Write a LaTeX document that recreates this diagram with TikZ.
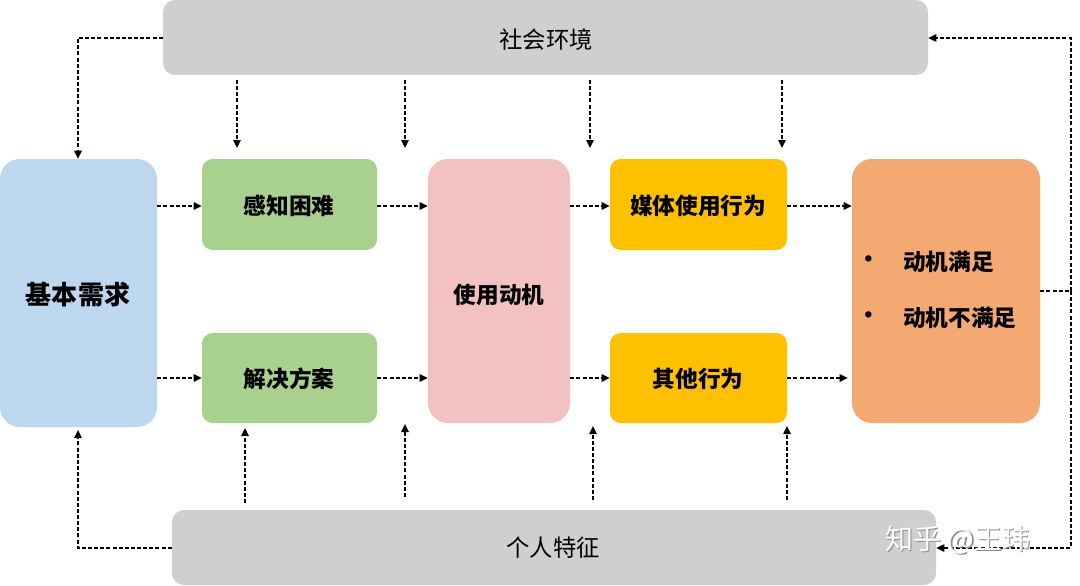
\documentclass[tikz,border=0pt]{standalone}
\usepackage{fontspec}
\setmainfont{Noto Sans CJK SC}
\usetikzlibrary{arrows.meta,fit}
\definecolor{cgray}{HTML}{D0CECE}
\definecolor{cblue}{HTML}{BDD7EE}
\definecolor{cgreen}{HTML}{A9D18E}
\definecolor{cpink}{HTML}{F2C2C2}
\definecolor{cyellow}{HTML}{FFC000}
\definecolor{corange}{HTML}{F4A872}
\begin{document}
\begin{tikzpicture}[x=0.75pt,y=-0.75pt,
  box/.style={rounded corners=8pt, inner sep=0pt, draw=none},
  bar/.style={rounded corners=9pt, inner sep=0pt, draw=none, fill=cgray},
  big/.style={rounded corners=15pt, inner sep=0pt, draw=none},
  arr/.style={line width=1.1pt, dash pattern=on 3pt off 1.6pt, -{Triangle[length=6pt,width=5.5pt]}},
  lbl/.style={inner sep=0pt, font=\bfseries\fontsize{17}{20}\selectfont},
  barlbl/.style={inner sep=0pt, font=\fontsize{17.5}{20}\selectfont}
]
\useasboundingbox (0,0) rectangle (1080,585);
\fill[white] (0,0) rectangle (1080,585);

% bars
\node[bar, fit={(163,0) (928,75)}] (env) {};
\node[barlbl] (envt) at (546,40) {社会环境};
\node[bar, fit={(172,510) (936,585)}] (pers) {};
\node[barlbl] (perst) at (553,548) {个人特征};

% boxes
\node[big, fill=cblue, fit={(0,159) (157,427)}] (need) {};
\node[lbl, font=\bfseries\fontsize{19.5}{22}\selectfont] (needt) at (78,295) {基本需求};
\node[box, fill=cgreen, fit={(202,159) (377,250)}] (perc) {};
\node[lbl] (perct) at (289,206) {感知困难};
\node[box, fill=cgreen, fit={(202,333) (377,423)}] (sol) {};
\node[lbl] (solt) at (289,379) {解决方案};
\node[big, fill=cpink, fit={(428,159) (570,423)}] (mot) {};
\node[lbl] (mott) at (499,295) {使用动机};
\node[box, fill=cyellow, fit={(610,159) (787,250)}] (media) {};
\node[lbl] (mediat) at (698,206) {媒体使用行为};
\node[box, fill=cyellow, fit={(610,333) (787,423)}] (other) {};
\node[lbl] (othert) at (698,379) {其他行为};
\node[big, fill=corange, fit={(852,159) (1040,423)}] (res) {};

\node[lbl, anchor=center] (b1) at (869,262) {•};
\node[lbl, anchor=west] (t1) at (903,262) {动机满足};
\node[lbl, anchor=center] (b2) at (869,318) {•};
\node[lbl, anchor=west] (t2) at (903,318) {动机不满足};

% reference coordinates
\coordinate (y205) at (0,206);
\coordinate (y378) at (0,378);
\coordinate (yr) at (0,291);

% horizontal arrows
\draw[arr] (need.east |- y205) -- (perc.west |- y205);
\draw[arr] (need.east |- y378) -- (sol.west |- y378);
\draw[arr] (perc.east |- y205) -- (mot.west |- y205);
\draw[arr] (sol.east |- y378) -- (mot.west |- y378);
\draw[arr] (mot.east |- y205) -- (media.west |- y205);
\draw[arr] (mot.east |- y378) -- (other.west |- y378);
\draw[arr] (media.east |- y205) -- (res.west |- y205);
\draw[arr] (other.east |- y378) -- ([xshift=-3pt]res.west |- y378);

% environment -> need
\coordinate (envL) at (78,38);
\draw[arr] (env.west |- envL) -- (envL) -- (need.north -| envL);
% personal -> need
\coordinate (persL) at (78,548);
\draw[arr] (pers.west |- persL) -- (persL) -- ([yshift=-2pt]need.south -| persL);

% environment down arrows
\foreach \x/\n in {237/a,405/b,590/c,782/d}{
  \coordinate (ts\n) at (\x,80);
  \coordinate (te\n) at (\x,148);
  \draw[arr] (ts\n) -- (te\n);
}
% personal up arrows
\coordinate (bsa) at (245,503); \coordinate (bea) at (245,428);
\coordinate (bsb) at (405,497); \coordinate (beb) at (405,424);
\coordinate (bsc) at (593,500); \coordinate (bec) at (593,426);
\coordinate (bsd) at (787,500); \coordinate (bed) at (787,426);
\foreach \n in {a,b,c,d}{\draw[arr] (bs\n) -- (be\n);}

% feedback loop
\coordinate (rR) at (1071,291);
\coordinate (rT) at (1071,38);
\coordinate (rB) at (1071,548);
\draw[arr] (res.east |- yr) -- (rR) -- (rT) -- (env.east |- rT);
\draw[arr] (rR) -- (rB) -- (pers.east |- rB);

% watermark
\node[inner sep=0pt, anchor=west, text=black!45, font=\fontsize{21}{24}\selectfont] (wm0) at (886.5,541.5) {知乎 @王玮};
\node[inner sep=0pt, anchor=west, text=white, font=\fontsize{21}{24}\selectfont] (wm) at (885,540) {知乎 @王玮};
\end{tikzpicture}
\end{document}
